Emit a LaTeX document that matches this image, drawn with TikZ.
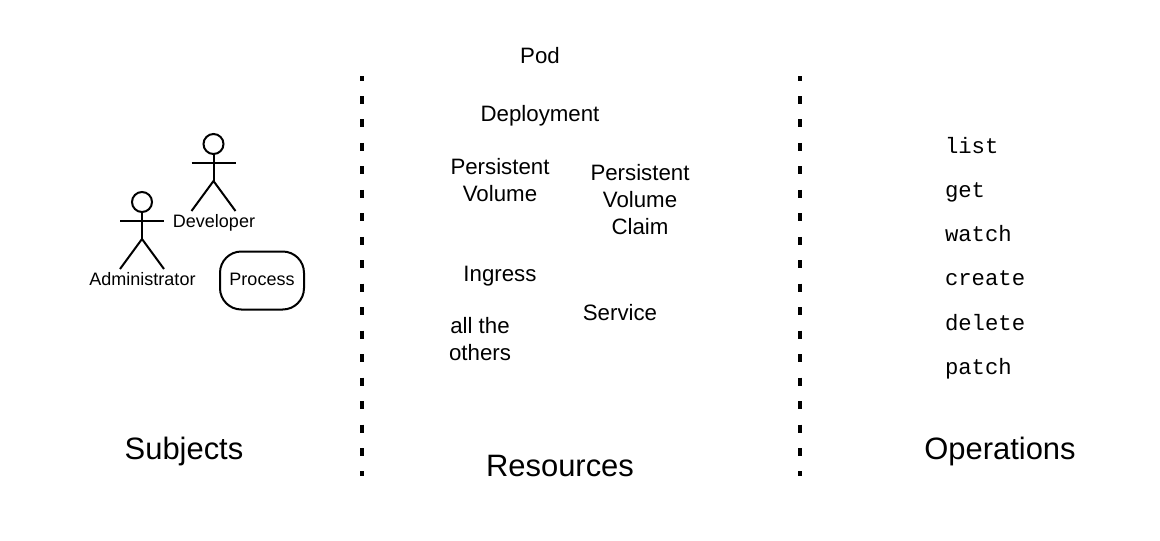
\documentclass[tikz,border=0pt]{standalone}
\usepackage{fontspec}
\setmainfont{Liberation Sans}
\setmonofont{Liberation Mono}
\usetikzlibrary{
  positioning      % positions like below of node
}
\tikzset{
    x=0.75pt,
    y=-0.75pt,
    every node/.style = {
        align=center,
        inner sep=0pt,
        outer sep=0pt
    },
    title/.append style = {font=\fontsize{23.2pt}{27pt}\selectfont},
    resource/.append style = {font=\fontsize{16.7pt}{20pt}\selectfont},
    actorlabel/.append style = {font=\fontsize{13.5pt}{16pt}\selectfont},
    operation/.append style = {font=\fontsize{16.7pt}{20pt}\selectfont\ttfamily, anchor=west},
    head/.append style = {circle, draw, minimum size=15pt},
    process/.append style = {draw, rounded corners=16pt, minimum width=63pt, minimum height=43.5pt},
    separator/.append style = {line width=3pt, dash pattern=on 6pt off 11.6pt, dash phase=2.6pt}
}
% stick figure: name, centre of the head
\newcommand{\actor}[2]{
  \node [head] (#1head) at #2 {};
  \coordinate [below=20.25pt of #1head] (#1neck);
  \coordinate [below=6.75pt of #1head] (#1arms);
  \coordinate [left=16.5pt of #1arms] (#1armL);
  \coordinate [right=16.5pt of #1arms] (#1armR);
  \coordinate [below=22.5pt of #1neck, xshift=-16.5pt] (#1legL);
  \coordinate [below=22.5pt of #1neck, xshift=16.5pt] (#1legR);
  \draw (#1head) -- (#1neck);
  \draw (#1armL) -- (#1armR);
  \draw (#1legL) -- (#1neck) -- (#1legR);
}

\begin{document}
\begin{tikzpicture}[line width=1.5pt]
  \useasboundingbox (0,0) rectangle (1160,540);

  %% Subjects
  \actor{dev}{(213.5,144)}
  \node [actorlabel] (devtext) at (214,223) {Developer};
  \actor{admin}{(142,202)}
  \node [actorlabel] (admintext) at (142.5,279) {Administrator};
  \node [process, actorlabel] (proc) at (262,280.5) {};
  \node [actorlabel] (proctext) at (262,279) {Process};
  \node [title] (subjects) at (184,451) {Subjects};

  %% separators
  \coordinate (sepAtop) at (362,76);
  \coordinate (sepAbot) at (362,476);
  \coordinate (sepBtop) at (800,76);
  \coordinate (sepBbot) at (800,476);
  \draw [separator] (sepAtop) -- (sepAbot);
  \draw [separator] (sepBtop) -- (sepBbot);

  %% Resources
  \node [resource] (pod) at (540,56) {Pod};
  \node [resource] (deploy) at (540,115.5) {Deployment};
  \node [resource] (pv) at (500,180) {Persistent\\Volume};
  \node [resource] (pvc) at (640,199.5) {Persistent\\Volume\\Claim};
  \node [resource] (ingress) at (500,276) {Ingress};
  \node [resource] (service) at (620,312.5) {Service};
  \node [resource] (others) at (480,339) {all the\\others};
  \node [title] (resources) at (560,466) {Resources};

  %% Operations
  \node [operation] (list) at (945,146) {list};
  \node [operation] (get) at (945,192.5) {get};
  \node [operation] (watch) at (945,234) {watch};
  \node [operation] (create) at (945,278.5) {create};
  \node [operation] (delete) at (945,323) {delete};
  \node [operation] (patch) at (945,369) {patch};
  \node [title] (operations) at (1000,451) {Operations};

\end{tikzpicture}
\end{document}
